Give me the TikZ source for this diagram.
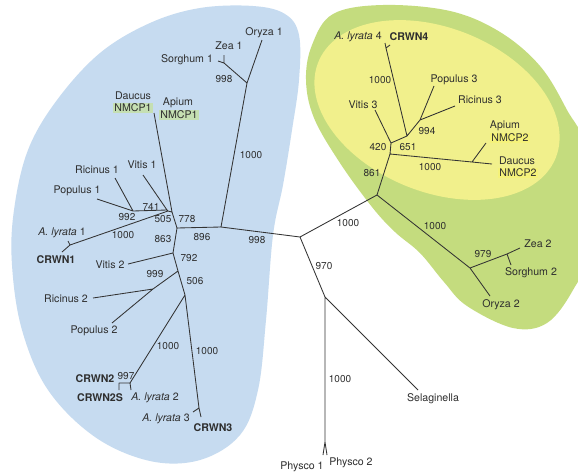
\documentclass[tikz,border=0pt]{standalone}
\usepackage{fontspec}
\setmainfont{TeX Gyre Heros}
\definecolor{blueblob}{HTML}{C6DBF0}
\definecolor{greenblob}{HTML}{C4DC7E}
\definecolor{yellowblob}{HTML}{F1F08C}
\definecolor{hlone}{HTML}{C5DFB2}
\definecolor{hltwo}{HTML}{F5F27A}
\definecolor{linec}{HTML}{333333}
\definecolor{textc}{HTML}{2E2E2E}
\newcommand{\spfont}{\fontsize{10.6}{12}\selectfont}
\newcommand{\numfont}{\fontsize{10}{12}\selectfont}
\tikzset{
  br/.style={draw=linec, line width=0.85pt, line join=round},
  sp/.style={text=textc, inner sep=0pt, font=\spfont},
  bsp/.style={sp, font=\spfont\bfseries},
  num/.style={text=textc, inner sep=0pt, font=\numfont},
  hlA/.style={sp, fill=hlone, inner xsep=1.5pt, inner ysep=1.2pt},
  hlB/.style={sp, fill=hltwo, inner xsep=1.5pt, inner ysep=1.2pt},
}
\begin{document}
\begin{tikzpicture}[x=1pt,y=-1pt]
\useasboundingbox (0,0) rectangle (578,474);
\fill[white] (0,0) rectangle (578,474);
% background blobs
\fill[blueblob] plot[smooth cycle, tension=0.6] coordinates {
 (253,6) (285,14) (299,35) (299,80) (292,130) (283,185) (273,235) (266,320)
 (258,390) (240,435) (200,460) (150,461) (95,437) (48,390) (22,330) (12,265)
 (14,210) (28,150) (57,100) (100,53) (150,23) (200,8)};
\fill[greenblob] plot[smooth cycle, tension=0.6] coordinates {
 (306,80) (312,45) (333,14) (383,5) (450,11) (500,32) (540,66) (567,110)
 (585,150) (588,250) (573,290) (547,323) (513,328) (467,306) (444,282)
 (420,253) (395,232) (372,207) (340,163) (314,118)};
\fill[yellowblob] plot[domain=0:360, samples=120, smooth]
 ({437+128*cos(\x)*cos(22)-82*sin(\x)*sin(22)},{110+128*cos(\x)*sin(22)+82*sin(\x)*cos(22)}) -- cycle;

% ---------- tree points ----------
\coordinate (nA) at (221,227);
\coordinate (nR) at (300,237);
\coordinate (nG) at (377,195);
\coordinate (nP) at (325,297);
\coordinate (tSel) at (418,390);
\coordinate (nPhy) at (325,442);
\coordinate (tPhy1) at (323,455);
\coordinate (tPhy2) at (327,455);
% green clade
\coordinate (n861) at (390,154);
\coordinate (n420) at (391,143);
\coordinate (tVit3) at (375,110);
\coordinate (n651) at (407,136);
\coordinate (nC4) at (386,48);
\coordinate (tAly4) at (385,43);
\coordinate (tC4) at (390,45);
\coordinate (n994) at (420,120);
\coordinate (tPop3) at (434,86);
\coordinate (tRic3) at (455,106);
\coordinate (nNM2) at (472,162);
\coordinate (tApi2) at (486,143);
\coordinate (tDau2) at (492,164);
\coordinate (nMon2) at (470,268);
\coordinate (n979) at (507,254);
\coordinate (tZea2) at (520,248);
\coordinate (tSor2) at (511,265);
\coordinate (tOry2) at (490,296);
% blue clade
\coordinate (nOZ) at (247,83);
\coordinate (tOry1) at (262,40);
\coordinate (nZS) at (224,63);
\coordinate (tZea1) at (224,55);
\coordinate (tSor1) at (218,61);
\coordinate (nB) at (177,228);
\coordinate (n778) at (172,212);
\coordinate (tDau1) at (154,113);
\coordinate (n505) at (168,211);
\coordinate (n741) at (167,210);
\coordinate (tVit1) at (143,175);
\coordinate (n992) at (133,211);
\coordinate (tPop1) at (97,199);
\coordinate (tRic1) at (115,178);
\coordinate (nC1) at (70,245);
\coordinate (tC1) at (62,252);
\coordinate (tAly1) at (68,241);
\coordinate (n863) at (173,253);
\coordinate (tVit2) at (128,264);
\coordinate (n792) at (178,271);
\coordinate (n999) at (153,289);
\coordinate (tRic2) at (93,298);
\coordinate (tPop2) at (112,323);
\coordinate (n506) at (185,295);
\coordinate (n997) at (130,383);
\coordinate (tC2S) at (119,390);
\coordinate (tAly2) at (131,390);
\coordinate (n3) at (199,408);
\coordinate (tC3) at (201,417);
\coordinate (tAly3) at (193,412);

% ---------- branches ----------
\draw[br] (nA)--(nR) (nR)--(nG) (nR)--(nP) (nP)--(tSel) (nP)--(nPhy)
  (nPhy)--(tPhy1) (nPhy)--(tPhy2);
\draw[br] (nG)--(n861) (n861)--(n420) (n861)--(nNM2) (nNM2)--(tDau2) (nNM2)--(tApi2)
  (n420)--(tVit3) (n420)--(n651) (n651)--(nC4) (nC4)--(tAly4) (nC4)--(tC4)
  (n651)--(n994) (n994)--(tPop3) (n994)--(tRic3)
  (nG)--(nMon2) (nMon2)--(tOry2) (nMon2)--(n979) (n979)--(tZea2) (n979)--(tSor2);
\draw[br] (nA)--(nOZ) (nOZ)--(tOry1) (nOZ)--(nZS) (nZS)--(tZea1) (nZS)--(tSor1)
  (nA)--(nB) (nB)--(n778) (n778)--(tDau1) (n778)--(n505) (n505)--(n741)
  (n505)--(nC1) (nC1)--(tC1) (nC1)--(tAly1) (n741)--(tVit1) (n741)--(n992)
  (n992)--(tPop1) (n992)--(tRic1)
  (nB)--(n863) (n863)--(tVit2) (n863)--(n792) (n792)--(n999) (n999)--(tRic2)
  (n999)--(tPop2) (n792)--(n506) (n506)--(n997) (n997)--(tAly2) (tC2S) |- (n997)
  (n506)--(n3) (n3)--(tC3) (n3)--(tAly3);

% ---------- bootstrap values ----------
\node[num] (b998a) at (257,240) {998};
\node[num] (b1000a) at (348,223) {1000};
\node[num] (b970) at (324,266) {970};
\node[num] (b1000b) at (340,379) {1000};
\node[num] (b861) at (372,173) {861};
\node[num] (b420) at (378,147) {420};
\node[num] (b651) at (408,147) {651};
\node[num] (b1000c) at (380,80) {1000};
\node[num] (b994) at (427,131) {994};
\node[num] (b1000d) at (430,167) {1000};
\node[num] (b1000e) at (435,226) {1000};
\node[num] (b979) at (483,254) {979};
\node[num] (b1000f) at (251,155) {1000};
\node[num] (b998b) at (224,79) {998};
\node[num] (b896) at (202,237) {896};
\node[num] (b778) at (187,219) {778};
\node[num] (b505) at (163,219) {505};
\node[num] (b741) at (151,207) {741};
\node[num] (b992) at (127,217) {992};
\node[num] (b1000g) at (123,235) {1000};
\node[num] (b863) at (163,239) {863};
\node[num] (b792) at (189,258) {792};
\node[num] (b999) at (155,274) {999};
\node[num] (b506) at (195,281) {506};
\node[num] (b1000h) at (168,346) {1000};
\node[num] (b1000i) at (207,351) {1000};
\node[num] (b997) at (126,376) {997};

% ---------- taxa ----------
\node[sp] (lOry1) at (264,33) {Oryza 1};
\node[sp] (lZea1) at (229,46) {Zea 1};
\node[sp] (lSor1) at (187,60) {Sorghum 1};
\node[sp] (lDau1) at (133,96) {Daucus};
\node[hlA] (lDau1b) at (133,108) {NMCP1};
\node[sp] (lApi1) at (178,103) {Apium};
\node[hlA] (lApi1b) at (179,115) {NMCP1};
\node[sp] (lRic1) at (97,170) {Ricinus 1};
\node[sp] (lVit1) at (142,165) {Vitis 1};
\node[sp] (lPop1) at (77,191) {Populus 1};
\node[sp] (lAly1) at (62,233) {\textit{A. lyrata} 1};
\node[bsp] (lC1) at (56,260) {CRWN1};
\node[sp] (lVit2) at (110,265) {Vitis 2};
\node[sp] (lRic2) at (66,299) {Ricinus 2};
\node[sp] (lPop2) at (94,331) {Populus 2};
\node[bsp] (lC2) at (95,379) {CRWN2};
\node[bsp] (lC2S) at (100,398) {CRWN2S};
\node[sp] (lAly2) at (155,398) {\textit{A. lyrata} 2};
\node[sp] (lAly3) at (166,419) {\textit{A. lyrata} 3};
\node[bsp] (lC3) at (213,428) {CRWN3};
\node[sp] (lAly4) at (358,37) {\textit{A. lyrata} 4};
\node[bsp] (lC4) at (409,37) {CRWN4};
\node[sp] (lPop3) at (454,80) {Populus 3};
\node[sp] (lRic3) at (480,100) {Ricinus 3};
\node[sp] (lVit3) at (363,105) {Vitis 3};
\node[sp] (lApi2) at (505,126) {Apium};
\node[hlB] (lApi2b) at (510,138) {NMCP2};
\node[sp] (lDau2) at (517,161) {Daucus};
\node[hlB] (lDau2b) at (518,173) {NMCP2};
\node[sp] (lZea2) at (538,244) {Zea 2};
\node[sp] (lSor2) at (531,273) {Sorghum 2};
\node[sp] (lOry2) at (501,305) {Oryza 2};
\node[sp] (lSel) at (433,399) {Selaginella};
\node[sp] (lPhy1) at (302,467) {Physco 1};
\node[sp] (lPhy2) at (351,463) {Physco 2};
\end{tikzpicture}
\end{document}
